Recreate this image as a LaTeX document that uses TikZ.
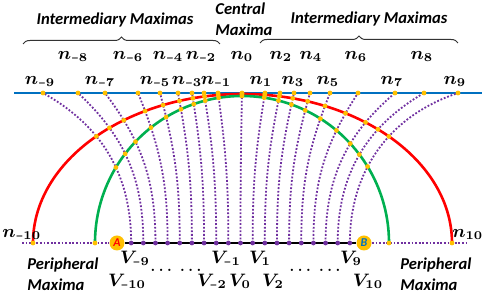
\documentclass[tikz,border=0pt]{standalone}
\usepackage{fontspec}
\newfontfamily\calib{Carlito}
\usetikzlibrary{intersections, decorations.pathreplacing, calc}
\definecolor{lineblue}{RGB}{0,112,192}
\definecolor{arcgreen}{RGB}{0,176,80}
\definecolor{dotpurple}{RGB}{112,48,160}
\definecolor{amber}{RGB}{255,192,0}
\newcommand\lsub[2]{$#1_{\ifnum#2<0 \hbox{\scalebox{.6}[1]{$\scriptstyle-$}}\the\numexpr0-(#2)\relax\else#2\fi}$}

\begin{document}
\begin{tikzpicture}[x=0.5pt, y=0.5pt,
    lbl/.style={font=\fontsize{9}{9}\selectfont\boldmath, anchor=base, inner sep=0pt},
    heading/.style={font=\calib\bfseries\itshape\fontsize{8.3}{10.5}\selectfont, align=left, inner sep=0pt},
    gdot/.style={circle, fill=amber, inner sep=0pt, minimum size=2.4pt},
    vdot/.style={circle, fill=dotpurple, inner sep=0pt, minimum size=2.4pt},
    track/.style={dotpurple, line width=0.9pt, dash pattern=on 0.9pt off 0.9pt},
    endpt/.style={circle, fill=amber, inner sep=0pt, minimum size=7.5pt, font=\calib\bfseries\itshape\fontsize{6}{6}\selectfont},
    brc/.style={decorate, decoration={brace, amplitude=3.5pt}, line width=0.5pt, black!80},
  ]
  \useasboundingbox (0,0) rectangle (482,293);

  % headings and braces
  \node[heading, anchor=base] (iml) at (115,268) {Intermediary Maximas};
  \node[heading, anchor=base] (imr) at (369,269) {Intermediary Maximas};
  \node[heading, anchor=north west] (cen) at (215,291) {Central\\Maxima};
  \draw[brc] (23,249) -- (220,249);
  \draw[brc] (260,250) -- (458,250);

  % screen and arcs
  \draw[lineblue, line width=1.3pt] (14,200) -- (482,200);
  \draw[red, line width=1.3pt, name path=redarc] (33,50) arc[start angle=180, end angle=0, x radius=209.5, y radius=149];
  \draw[arcgreen, line width=1.3pt, name path=greenarc] (95,50) arc[start angle=180, end angle=0, radius=147];

  % bottom row
  \coordinate (Lend) at (22,50);
  \coordinate (Rend) at (469,50);
  \node[endpt, text=red] (A) at (117,50) {A};
  \node[endpt, text=lineblue] (B) at (364,50) {B};
  \draw[track] (Lend) -- (A);
  \draw[track] (B) -- (Rend);
  \draw[line width=1pt] (A) -- (B);
  \node[gdot] (n-10) at (33,50) {};
  \node[gdot] (gl) at (95,50) {};
  \node[gdot] (gr) at (389,50) {};
  \node[gdot] (n10) at (452,50) {};

  \foreach \k/\xn in {-9/43, -8/78, -7/105, -6/138, -5/160, -4/178, -3/192, -2/204, -1/218, 0/242,
                      1/265, 2/280, 3/294, 4/310, 5/330, 6/358, 7/395, 8/424, 9/458}{
    \coordinate (n\k) at (\xn,200);
    \coordinate (V\k) at ({240.5+12.15*\k},50);
  }

  % rays from V_k up to n_k
  \foreach \k in {-9,...,9}{
    \draw[track, name path=trk] let \p1=(n\k), \p2=(V\k), \n1={atan2(\y1-\y2,\x1-\x2)} in
      (V\k) to[out=90, in={2*\n1+90}] (n\k);
    \fill[amber, name intersections={of=trk and redarc}] (intersection-1) circle[radius=1.2pt];
    \fill[amber, name intersections={of=trk and greenarc}] (intersection-1) circle[radius=1.2pt];
    \node[gdot] (dn\k) at (n\k) {};
    \node[vdot] (dv\k) at (V\k) {};
  }

  % labels
  \foreach \k/\x in {-9/40, -7/100, -5/155, -3/187, -1/216, 1/261, 3/293, 5/328, 7/392, 9/455}
    \node[lbl] (ln\k) at (\x,208) {\lsub{n}{\k}};
  \foreach \k/\x in {-8/73, -6/128, -4/168, -2/201, 0/242, 2/281, 4/311, 6/356, 8/422}
    \node[lbl] (ln\k) at (\x,233) {\lsub{n}{\k}};
  \node[lbl, anchor=base west] (ln-10) at (2,55) {\lsub{n}{-10}};
  \node[lbl, anchor=base west] (ln10) at (452,55) {\lsub{n}{10}};
  \foreach \k/\x in {-9/135, -1/226, 1/260, 9/351}
    \node[lbl] (lv\k) at (\x,29) {\lsub{V}{\k}};
  \foreach \k/\x in {-10/127, -2/212, 0/240, 2/273, 10/368}
    \node[lbl] (lv\k) at (\x,6) {\lsub{V}{\k}};
  \node[lbl, font=\fontsize{7.5}{7.5}\selectfont\boldmath] (dotsl) at (176,21) {$\dots$\hspace{4pt}$\dots$};
  \node[lbl, font=\fontsize{7.5}{7.5}\selectfont\boldmath] (dotsr) at (315,21) {$\dots$\hspace{4pt}$\dots$};

  \node[heading, anchor=north west] (perl) at (27,36) {Peripheral\\Maxima};
  \node[heading, anchor=north west] (perr) at (400,36) {Peripheral\\Maxima};
\end{tikzpicture}
\end{document}
